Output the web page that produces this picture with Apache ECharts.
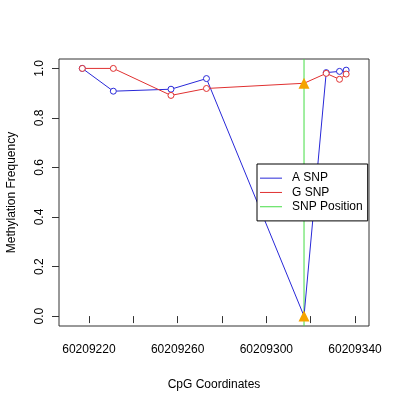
<!DOCTYPE html>
<html>
<head>
<meta charset="utf-8">
<script src="https://cdn.jsdelivr.net/npm/echarts@6/dist/echarts.min.js"></script>
<style>
  html, body { margin: 0; padding: 0; background: #fff; }
  #chart { width: 400px; height: 400px; }
</style>
</head>
<body>
<div id="chart"></div>
<script>
// CpG positions and methylation per allele
const positions = [60209217, 60209231, 60209257, 60209273, 60209317, 60209327, 60209333, 60209336];
const aSnp = [1.0, 0.908, 0.916, 0.959, 0.0, 0.983, 0.988, 0.993];
const gSnp = [1.0, 1.0, 0.891, 0.919, 0.94, 0.98, 0.956, 0.977];
const snpPos = 60209317;

const xTicks = [60209220, 60209240, 60209260, 60209280, 60209300, 60209320, 60209340];
const xLabels = [60209220, 60209260, 60209300, 60209340];
const yTicks = [0, 0.2, 0.4, 0.6, 0.8, 1.0];

const xMin = 60209206.5, xMax = 60209346.3;
const yMin = -0.04, yMax = 1.038;

const FONT = 'Liberation Sans';
const ORANGE = '#f5a300';
const BLUE = '#2828d8';
const RED = '#e03030';
const GREEN = '#44dd44';

// snp point gets the orange triangle, others are open circles
const toData = (vals) => positions.map((p, i) => {
  if (p === snpPos) {
    return {
      value: [p, vals[i]],
      symbol: 'triangle',
      symbolSize: 11,
      itemStyle: { color: ORANGE, borderColor: ORANGE, borderWidth: 0 },
    };
  }
  return [p, vals[i]];
});

const lineSeries = (name, color, vals) => ({
  name,
  type: 'line',
  data: toData(vals),
  symbol: 'circle',
  symbolSize: 6,
  z: 3,
  lineStyle: { color, width: 1 },
  itemStyle: { color: '#fff', borderColor: color, borderWidth: 1 },
  animation: false,
});

const chart = echarts.init(document.getElementById('chart'));
chart.setOption({
  animation: false,
  textStyle: { fontFamily: FONT },
  grid: {
    left: 59, right: 31, top: 59, bottom: 74,
    outerBoundsMode: 'none',
    containLabel: false,
    show: true, borderColor: '#333', borderWidth: 1,
  },
  legend: {
    data: [
      { name: 'A SNP', itemStyle: { color: BLUE } },
      { name: 'G SNP', itemStyle: { color: RED } },
      { name: 'SNP Position', itemStyle: { color: GREEN } },
    ],
    orient: 'vertical',
    left: 257, top: 164,
    icon: 'rect',
    itemWidth: 22, itemHeight: 1,
    itemGap: 0,
    padding: [7, 5, 7, 3],
    backgroundColor: '#fff',
    borderColor: '#000', borderWidth: 1, borderRadius: 0,
    itemStyle: { borderWidth: 0 },
    textStyle: { fontFamily: FONT, fontSize: 12, color: '#000', lineHeight: 14.3, padding: [0, 0, 0, 5] },
  },
  xAxis: {
    type: 'value',
    min: xMin, max: xMax,
    name: 'CpG Coordinates',
    nameLocation: 'middle',
    nameGap: 53,
    nameTextStyle: { fontFamily: FONT, fontSize: 12, color: '#000' },
    splitLine: { show: false },
    axisLine: { show: false },
    axisTick: { show: true, length: 7, customValues: xTicks, lineStyle: { color: '#333' } },
    axisLabel: {
      customValues: xLabels,
      margin: 18,
      fontFamily: FONT, fontSize: 12, color: '#000',
      formatter: (v) => String(Math.round(v)),
    },
  },
  yAxis: {
    type: 'value',
    min: yMin, max: yMax,
    name: 'Methylation Frequency',
    nameLocation: 'middle',
    nameGap: 41,
    nameRotate: 90,
    nameTextStyle: { fontFamily: FONT, fontSize: 12, color: '#000' },
    splitLine: { show: false },
    axisLine: { show: false },
    axisTick: { show: true, length: 7, customValues: yTicks, lineStyle: { color: '#333' } },
    axisLabel: {
      customValues: yTicks,
      rotate: 90,
      margin: 13,
      fontFamily: FONT, fontSize: 12, color: '#000',
      formatter: (v) => v.toFixed(1),
    },
  },
  series: [
    lineSeries('A SNP', BLUE, aSnp),
    lineSeries('G SNP', RED, gSnp),
    {
      name: 'SNP Position',
      type: 'line',
      data: [[snpPos, yMin], [snpPos, yMax]],
      showSymbol: false,
      symbol: 'none',
      z: 1,
      lineStyle: { color: GREEN, width: 1 },
      itemStyle: { color: GREEN },
      animation: false,
    },
  ],
});
</script>
</body>
</html>
